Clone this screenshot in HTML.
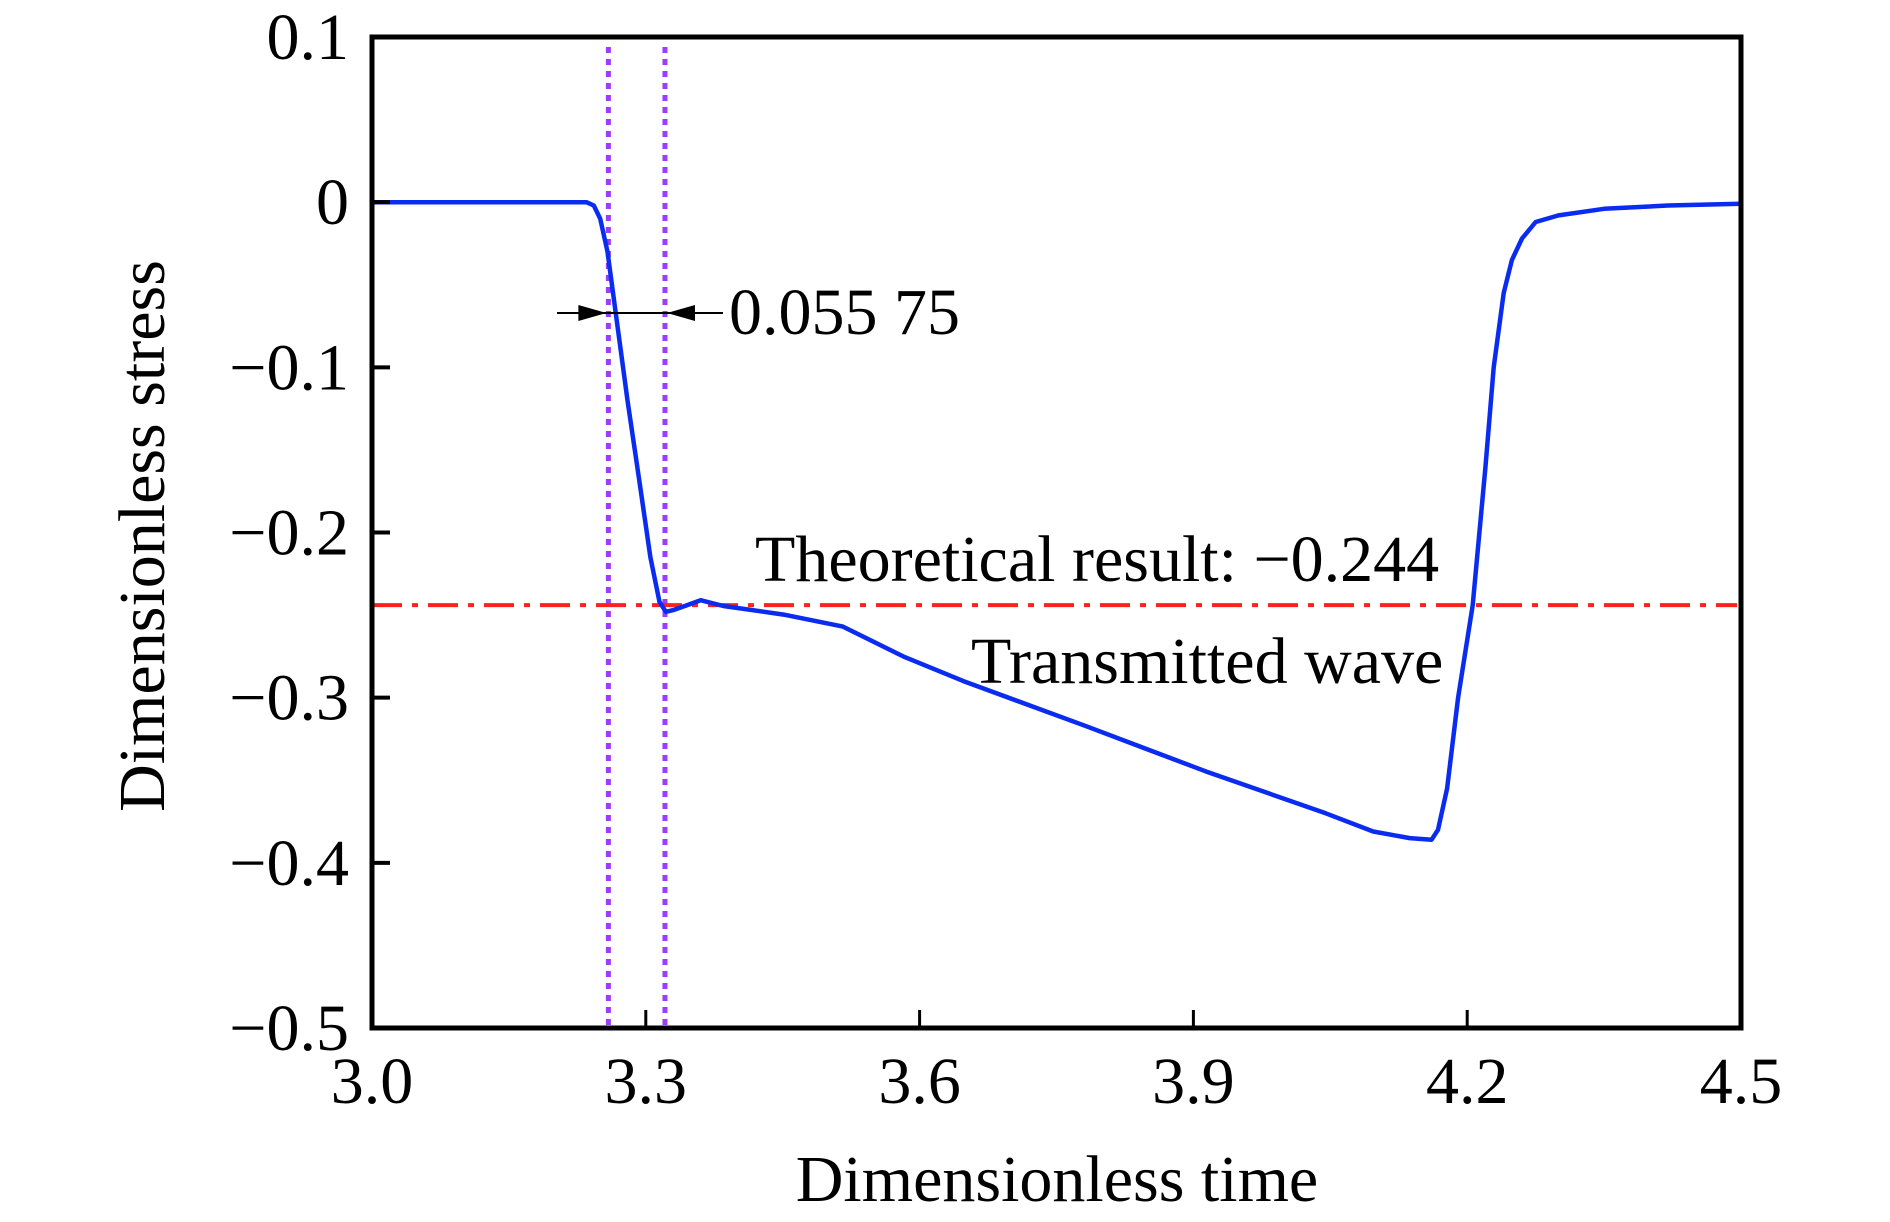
<!DOCTYPE html>
<html><head><meta charset="utf-8"><style>
html,body{margin:0;padding:0;background:#fff;width:1890px;height:1222px;overflow:hidden}
svg text{font-family:"Liberation Serif",serif;fill:#000}
</style></head><body>
<svg id="chart" width="1890" height="1222" viewBox="0 0 1890 1222" xmlns="http://www.w3.org/2000/svg"></svg>
<script>
const xTicks=[3.0,3.3,3.6,3.9,4.2,4.5];
const xTickLabels=["3.0","3.3","3.6","3.9","4.2","4.5"];
const yTicks=[0.1,0,-0.1,-0.2,-0.3,-0.4,-0.5];
const yTickLabels=["0.1","0","\u22120.1","\u22120.2","\u22120.3","\u22120.4","\u22120.5"];
const timeVals=[3.0,3.2,3.235,3.243,3.25,3.258,3.267,3.28,3.293,3.305,3.315,3.322,3.33,3.345,3.36,3.385,3.451,3.516,3.582,3.648,3.781,3.913,4.045,4.097,4.137,4.161,4.168,4.178,4.19,4.206,4.22,4.229,4.24,4.249,4.26,4.275,4.3,4.35,4.42,4.5];
const stressVals=[0,0,0,-0.002,-0.01,-0.03,-0.067,-0.12,-0.169,-0.215,-0.242,-0.248,-0.247,-0.244,-0.241,-0.2445,-0.2497,-0.257,-0.275,-0.29,-0.317,-0.3445,-0.37,-0.381,-0.385,-0.386,-0.38,-0.355,-0.3,-0.244,-0.16,-0.1,-0.055,-0.035,-0.022,-0.012,-0.008,-0.004,-0.002,-0.001];
const markerTimes=[3.259,3.321];
const theoryVal=-0.244;

const L=372,R=1741,T=37,B=1028;
const xs=v=>L+(v-3.0)/1.5*(R-L);
const ys=v=>T+(0.1-v)/0.6*(B-T);
const svg=document.getElementById('chart');
const NS='http://www.w3.org/2000/svg';
function mk(tag,attrs,parent){const e=document.createElementNS(NS,tag);for(const k in attrs)e.setAttribute(k,attrs[k]);(parent||svg).appendChild(e);return e;}

markerTimes.forEach((t,i)=>{
 const l=mk('line',{x1:xs(t),x2:xs(t),y1:T+10,y2:B,stroke:'#9b3cff','stroke-width':5,'stroke-dasharray':'6 6'});
 
 
});
const th=mk('line',{x1:L,x2:R-4,y1:ys(theoryVal),y2:ys(theoryVal),stroke:'#ff2020','stroke-width':4,'stroke-dasharray':'30 10 6 10'});


const pts=timeVals.map((t,i)=>xs(t).toFixed(1)+','+ys(stressVals[i]).toFixed(1)).join(' ');
const cv=mk('polyline',{points:pts,fill:'none',stroke:'#0a2cf0','stroke-width':4.5,'stroke-linejoin':'round'});


const fr=mk('rect',{x:L,y:T,width:R-L,height:B-T,fill:'none',stroke:'#000','stroke-width':5});


xTicks.forEach((v,i)=>{
 const x=xs(v);
 if(i>0&&i<xTicks.length-1){const tk=mk('line',{x1:x,x2:x,y1:B,y2:B-18,stroke:'#000','stroke-width':3});
 
 }
 const tx=mk('text',{x:x,y:1103,'text-anchor':'middle','font-size':66});
 tx.textContent=xTickLabels[i];
 
 
});
yTicks.forEach((v,i)=>{
 const y=ys(v);
 if(i>0&&i<yTicks.length-1){const tk=mk('line',{x1:L,x2:L+18,y1:y,y2:y,stroke:'#000','stroke-width':4});
 
 }
 const tx=mk('text',{x:349,y:y+22,'text-anchor':'end','font-size':66});
 tx.textContent=yTickLabels[i];
 
 
});
const xt=mk('text',{x:1057,y:1201,'text-anchor':'middle','font-size':66});
xt.textContent='Dimensionless time';


const yt=mk('text',{x:0,y:0,'text-anchor':'middle','font-size':66,transform:'translate(164,536) rotate(-90)'});
yt.textContent='Dimensionless stress';


const ay=313;
const al=mk('line',{x1:557,x2:723,y1:ay,y2:ay,stroke:'#000','stroke-width':2});


const a1=mk('polygon',{points:`${xs(markerTimes[0])-2},${ay} ${xs(markerTimes[0])-30},${ay-8} ${xs(markerTimes[0])-30},${ay+8}`,fill:'#000'});


const a2=mk('polygon',{points:`${xs(markerTimes[1])+2},${ay} ${xs(markerTimes[1])+30},${ay-8} ${xs(markerTimes[1])+30},${ay+8}`,fill:'#000'});


const it=mk('text',{x:729,y:334,'font-size':66});
it.textContent='0.055 75';


const tt=mk('text',{x:755,y:581,'font-size':66});
tt.textContent='Theoretical result: \u22120.244';


const tw=mk('text',{x:971,y:683,'font-size':66});
tw.textContent='Transmitted wave';


</script>
</body></html>
